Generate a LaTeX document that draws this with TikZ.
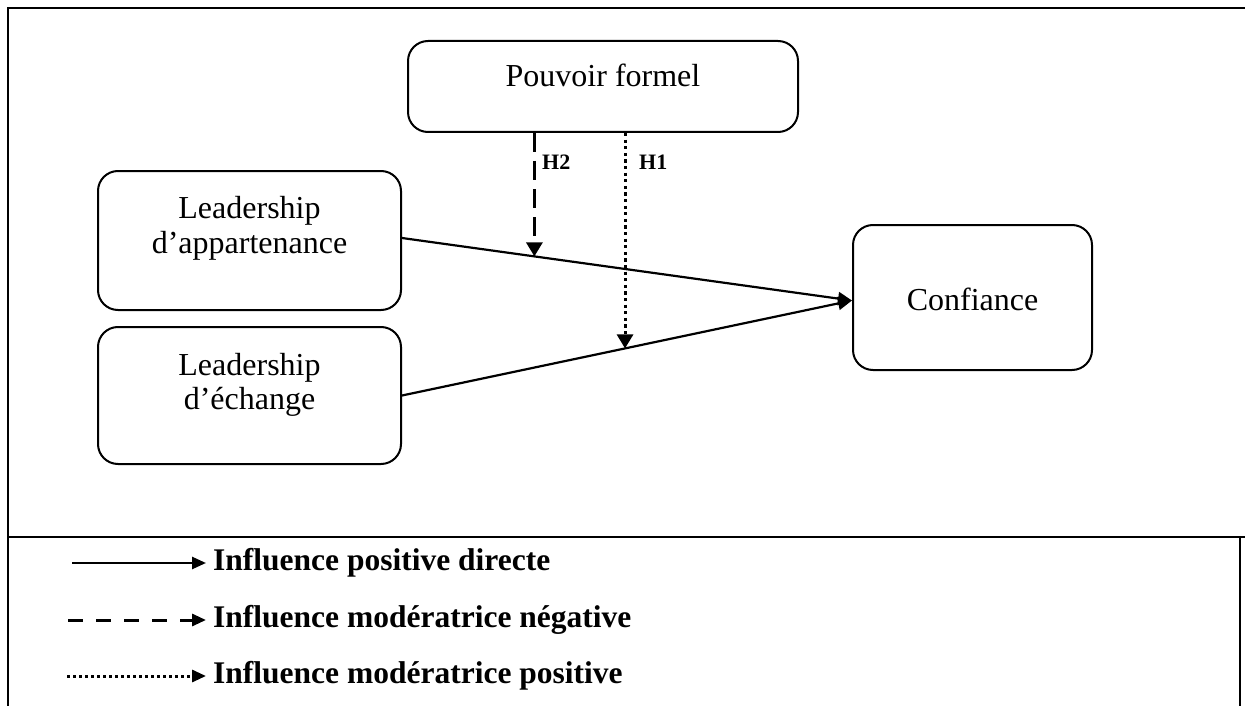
\documentclass[tikz,border=0pt]{standalone}
\usepackage{fontspec}
\setmainfont{Liberation Serif}
\usetikzlibrary{arrows.meta,calc}
\begin{document}
\begin{tikzpicture}[x=1pt,y=-1pt,
  frame/.style={line width=2.5pt},
  box/.style={draw, line width=2pt, rounded corners=20pt, inner sep=0pt},
  txt/.style={font=\fontsize{32}{35}\selectfont, anchor=base, inner sep=0pt},
  hlab/.style={font=\fontsize{22}{24}\bfseries, anchor=base west, inner sep=0pt},
  leg/.style={font=\fontsize{31.5}{34}\bfseries, anchor=west, inner sep=0pt},
  conn/.style={line width=2.2pt, -{Triangle[length=14pt,width=13pt]}},
  modneg/.style={line width=3pt, dash pattern=on 19pt off 9pt, -{Triangle[length=14pt,width=16pt]}},
  modpos/.style={line width=3pt, dash pattern=on 3.2pt off 3.4pt, -{Triangle[length=14pt,width=16pt]}},
  legsolid/.style={line width=2.5pt, -{Triangle[length=14pt,width=12pt]}},
  legdash/.style={line width=3pt, dash pattern=on 15pt off 13pt, -{Triangle[length=14pt,width=12pt]}},
  legdot/.style={line width=3pt, dash pattern=on 3pt off 3pt, -{Triangle[length=14pt,width=12pt]}}
]
\useasboundingbox (0,0) rectangle (1245,706);

% frame
\draw[frame] (8,706) -- (8,8) -- (1245,8);
\draw[frame] (8,537) -- (1245,537);
\draw[frame] (1240,537) -- (1240,706);

% boxes
\node[box, minimum width=390pt, minimum height=91pt] (pouv) at (603,86.5) {};
\node[box, minimum width=303pt, minimum height=139pt] (app) at (249.5,240.5) {};
\node[box, minimum width=303pt, minimum height=137pt] (ech) at (249.5,395.5) {};
\node[box, minimum width=239pt, minimum height=145pt] (conf) at (972.5,297.5) {};

% texts
\node[txt] (tpouv) at (603,87) {Pouvoir formel};
\node[txt] (tapp1) at (249.5,218) {Leadership};
\node[txt] (tapp2) at (249.5,253) {d’appartenance};
\node[txt] (tech1) at (249.5,375) {Leadership};
\node[txt] (tech2) at (249.5,409) {d’échange};
\node[txt] (tconf) at (972.5,310) {Confiance};

% connectors
\coordinate (a0) at ([yshift=2.5pt]app.east);
\coordinate (e0) at (ech.east);
\coordinate (tip) at ([yshift=-3pt]conf.west);
\draw[conn] (a0) -- (tip);
\draw[conn] (e0) -- (tip);

\coordinate (m2) at ($(a0)!0.2942!(tip)$);
\coordinate (m1) at ($(e0)!0.4956!(tip)$);
\draw[modneg] (m2 |- pouv.south) -- (m2);
\draw[modpos] (m1 |- pouv.south) -- (m1);
\node[hlab] (h2) at (542,170) {H2};
\node[hlab] (h1) at (639,170) {H1};

% legend
\coordinate (s1) at (72,563);  \coordinate (e1) at (206,563);
\coordinate (s2) at (68,620);  \coordinate (e2) at (206,620);
\coordinate (s3) at (67,676);  \coordinate (e3) at (206,676);
\draw[legsolid] (s1) -- (e1);
\draw[legdash] (s2) -- (e2);
\draw[legdot] (s3) -- (e3);
\node[leg] (l1) at (213,563) {Influence positive directe};
\node[leg] (l2) at (213,620) {Influence modératrice négative};
\node[leg] (l3) at (213,676) {Influence modératrice positive};
\end{tikzpicture}
\end{document}
